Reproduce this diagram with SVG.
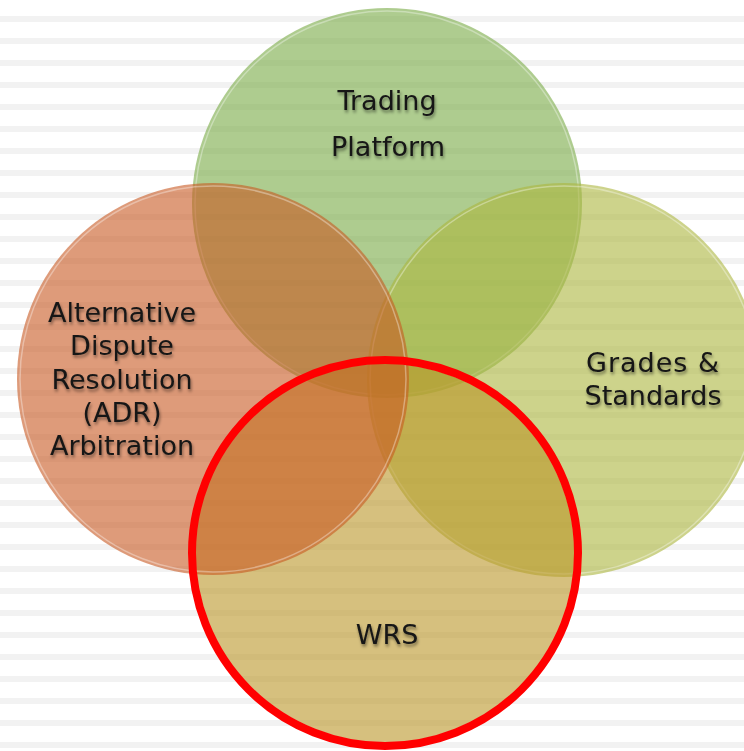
<svg xmlns="http://www.w3.org/2000/svg" width="744" height="751" viewBox="0 0 744 751">
  <defs>
    <pattern id="stripes" x="0" y="16" width="744" height="22" patternUnits="userSpaceOnUse">
      <rect x="0" y="0" width="744" height="6" fill="#f2f2f2"/>
    </pattern>
    <filter id="tshadow" x="-20%" y="-30%" width="140%" height="170%">
      <feDropShadow dx="1" dy="2.5" stdDeviation="1.8" flood-color="#000" flood-opacity="0.45"/>
    </filter>
  </defs>
  <style>
    .bg { fill: #ffffff; }
    .disc { fill-opacity: 0.6; }
    .rim { fill: none; stroke: #ffffff; stroke-opacity: 0.35; stroke-width: 1.5; }
    .lbl { font-family: "DejaVu Sans", "Liberation Sans", sans-serif; font-size: 27px; fill: #151515; text-anchor: middle; filter: url(#tshadow); }
    .ring { fill: none; stroke: #ff0000; stroke-width: 8; }
  </style>

  <rect class="bg" x="0" y="0" width="744" height="751"/>
  <rect x="0" y="0" width="744" height="751" fill="url(#stripes)"/>

  <g id="node-trading-platform">
    <circle class="disc" cx="387" cy="203" r="195" fill="rgb(120,170,68)"/>
    <circle class="rim" cx="387" cy="203" r="192"/>
    <text class="lbl" x="387" y="110">Trading</text>
    <text class="lbl" x="388" y="156">Platform</text>
  </g>

  <g id="node-grades-standards">
    <circle class="disc" cx="564" cy="380" r="197" fill="rgb(172,182,62)"/>
    <circle class="rim" cx="564" cy="380" r="194"/>
    <text class="lbl" x="653" y="372" letter-spacing="1">Grades &amp;</text>
    <text class="lbl" x="653" y="405">Standards</text>
  </g>

  <g id="node-wrs">
    <circle class="disc" cx="385" cy="553" r="195" fill="rgb(187,150,40)"/>
    <circle class="rim" cx="385" cy="553" r="190"/>
    <text class="lbl" x="387" y="644">WRS</text>
  </g>

  <g id="node-adr">
    <circle class="disc" cx="213" cy="379" r="196" fill="rgb(200,88,33)"/>
    <circle class="rim" cx="213" cy="379" r="193"/>
    <text class="lbl" x="122" y="322">Alternative</text>
    <text class="lbl" x="122" y="355">Dispute</text>
    <text class="lbl" x="122" y="389">Resolution</text>
    <text class="lbl" x="122" y="422">(ADR)</text>
    <text class="lbl" x="122" y="455">Arbitration</text>
  </g>

  <g id="wrs-highlight">
    <circle class="ring" cx="385" cy="553" r="193"/>
  </g>
</svg>
